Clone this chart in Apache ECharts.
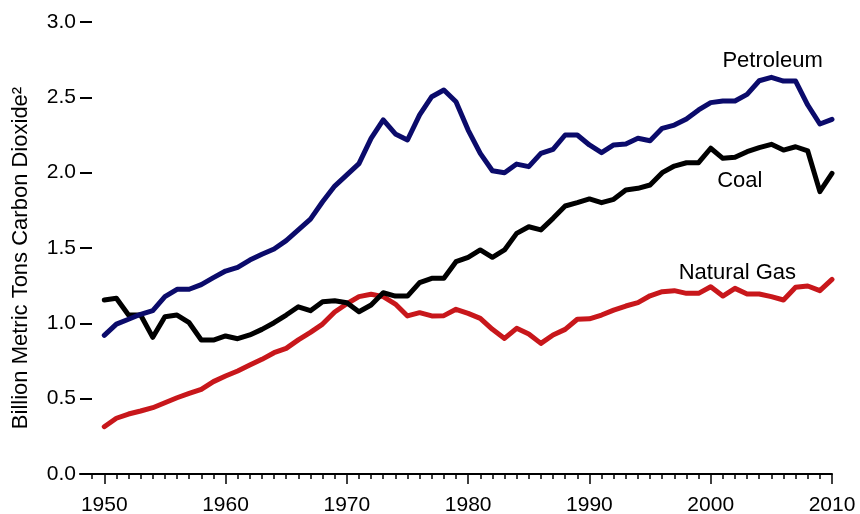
<!DOCTYPE html>
<html>
<head>
<meta charset="utf-8">
<script src="https://cdn.jsdelivr.net/npm/echarts@6/dist/echarts.min.js"></script>
<style>
  html, body { margin: 0; padding: 0; background: #fff; }
  #chart { width: 860px; height: 514px; }
</style>
</head>
<body>
<div id="chart"></div>
<script>
// years on the x axis
const years = [
  1950, 1951, 1952, 1953, 1954, 1955, 1956, 1957, 1958, 1959,
  1960, 1961, 1962, 1963, 1964, 1965, 1966, 1967, 1968, 1969,
  1970, 1971, 1972, 1973, 1974, 1975, 1976, 1977, 1978, 1979,
  1980, 1981, 1982, 1983, 1984, 1985, 1986, 1987, 1988, 1989,
  1990, 1991, 1992, 1993, 1994, 1995, 1996, 1997, 1998, 1999,
  2000, 2001, 2002, 2003, 2004, 2005, 2006, 2007, 2008, 2009,
  2010
];

// billion metric tons CO2
const petroleum = [
  0.92, 0.995, 1.027, 1.06, 1.084, 1.177, 1.226, 1.226, 1.257, 1.303,
  1.347, 1.372, 1.42, 1.458, 1.493, 1.549, 1.62, 1.692, 1.807, 1.911,
  1.985, 2.06, 2.228, 2.35, 2.257, 2.217, 2.383, 2.504, 2.549, 2.471,
  2.283, 2.128, 2.013, 2.0, 2.057, 2.04, 2.128, 2.155, 2.25, 2.25,
  2.184, 2.133, 2.184, 2.19, 2.228, 2.212, 2.294, 2.316, 2.356, 2.416,
  2.465, 2.476, 2.476, 2.52, 2.61, 2.633, 2.608, 2.608, 2.449, 2.323,
  2.354
];

const coal = [
  1.155, 1.166, 1.055, 1.055, 0.907, 1.044, 1.055, 1.004, 0.889, 0.889,
  0.916, 0.898, 0.923, 0.96, 1.004, 1.055, 1.11, 1.084, 1.144, 1.15,
  1.137, 1.077, 1.122, 1.203, 1.181, 1.181, 1.27, 1.299, 1.299, 1.409,
  1.438, 1.487, 1.438, 1.487, 1.597, 1.641, 1.62, 1.697, 1.779, 1.801,
  1.826, 1.801, 1.823, 1.885, 1.896, 1.918, 2.0, 2.044, 2.066, 2.066,
  2.162, 2.095, 2.102, 2.139, 2.166, 2.188, 2.15, 2.172, 2.144, 1.874,
  1.996
];

const naturalGas = [
  0.314, 0.37, 0.398, 0.418, 0.44, 0.473, 0.506, 0.535, 0.562, 0.613,
  0.65, 0.684, 0.723, 0.761, 0.805, 0.834, 0.89, 0.94, 0.995, 1.075,
  1.13, 1.177, 1.193, 1.177, 1.128, 1.049, 1.071, 1.049, 1.051, 1.093,
  1.066, 1.033, 0.96, 0.9, 0.967, 0.929, 0.867, 0.923, 0.96, 1.027,
  1.03, 1.055, 1.088, 1.115, 1.137, 1.183, 1.21, 1.217, 1.199, 1.199,
  1.243, 1.181, 1.232, 1.195, 1.195, 1.177, 1.155, 1.239, 1.248, 1.217,
  1.292
];

// tick positions
const minorTicks = [1949].concat(years);
const decadeTicks = [1950, 1960, 1970, 1980, 1990, 2000, 2010];

const font = 'Liberation Sans, Arial, Helvetica, sans-serif';

const chart = echarts.init(document.getElementById('chart'));

// one series per fuel, with its name written next to the line
const makeSeries = (name, values, color, labelAt) => ({
  name: name,
  type: 'line',
  data: years.map((y, i) => [y, values[i]]),
  showSymbol: false,
  symbol: 'none',
  smooth: false,
  animation: false,
  lineStyle: { color: color, width: 5, cap: 'round', join: 'round' },
  markPoint: {
    symbol: 'circle',
    symbolSize: 0,
    animation: false,
    label: {
      show: true,
      position: 'inside',
      formatter: name,
      color: '#000',
      fontFamily: font,
      fontSize: 22
    },
    data: [{ coord: labelAt }]
  }
});

const option = {
  backgroundColor: '#fff',
  animation: false,
  grid: {
    left: 80, right: 28, top: 22, bottom: 40,
    containLabel: false,
    outerBoundsMode: 'none'
  },
  xAxis: [
    {
      type: 'value',
      min: 1948,
      max: 2010,
      axisLine: { show: true, lineStyle: { color: '#000', width: 2 } },
      axisTick: {
        show: true,
        customValues: minorTicks,
        length: 5,
        lineStyle: { color: '#000', width: 1.5 }
      },
      axisLabel: {
        customValues: decadeTicks,
        color: '#000',
        fontFamily: font,
        fontSize: 21,
        margin: 21,
        formatter: v => String(v)
      },
      splitLine: { show: false }
    },
    {
      // longer ticks at each decade
      type: 'value',
      min: 1948,
      max: 2010,
      position: 'bottom',
      axisLine: { show: false },
      axisTick: {
        show: true,
        customValues: decadeTicks,
        length: 10,
        lineStyle: { color: '#000', width: 1.5 }
      },
      axisLabel: { show: false },
      splitLine: { show: false }
    }
  ],
  yAxis: {
    type: 'value',
    min: 0,
    max: 3,
    interval: 0.5,
    name: 'Billion Metric Tons Carbon Dioxide²',
    nameLocation: 'middle',
    nameGap: 48,
    nameRotate: 90,
    nameTextStyle: {
      color: '#000',
      fontFamily: font,
      fontSize: 22,
      padding: [0, 20, 0, 0]
    },
    axisLine: { show: false },
    axisTick: {
      show: true,
      inside: true,
      length: 12,
      lineStyle: { color: '#000', width: 2 }
    },
    axisLabel: {
      color: '#000',
      fontFamily: font,
      fontSize: 21,
      margin: 4,
      formatter: v => v.toFixed(1)
    },
    splitLine: { show: false }
  },
  series: [
    makeSeries('Natural Gas', naturalGas, '#c8171b', [2002.2, 1.334]),
    makeSeries('Coal', coal, '#000000', [2002.4, 1.945]),
    makeSeries('Petroleum', petroleum, '#0b0b6b', [2005.1, 2.74])
  ]
};

chart.setOption(option);
</script>
</body>
</html>
